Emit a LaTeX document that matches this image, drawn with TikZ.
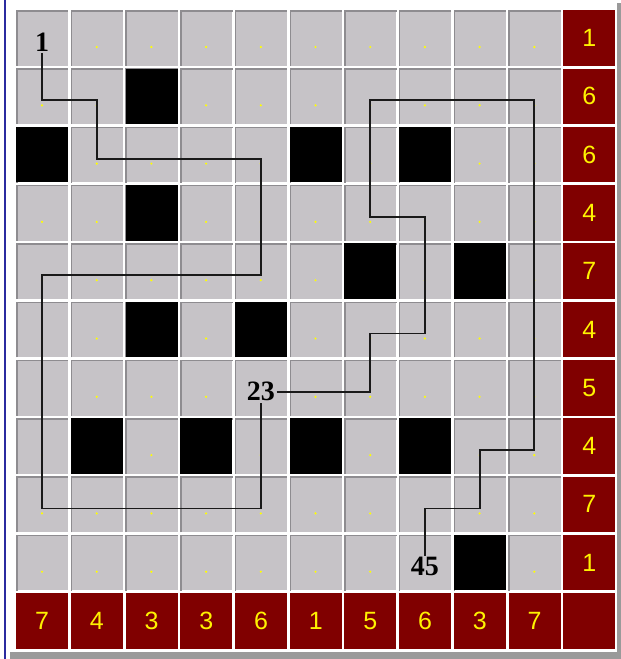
\documentclass[tikz,border=0pt]{standalone}
\usepackage{fontspec}
\setmainfont{Liberation Serif}
\newfontfamily\cluefont{Liberation Sans}
\usetikzlibrary{positioning}
\definecolor{cellgrey}{HTML}{C6C3C7}
\definecolor{cellshade}{HTML}{8E8C90}
\definecolor{cluered}{HTML}{800000}
\definecolor{clueyellow}{HTML}{FFF200}
\definecolor{dotyellow}{HTML}{FFFF00}
\definecolor{framegrey}{HTML}{9A9A9A}
\definecolor{frameblue}{HTML}{2B2BA0}

\begin{document}
\begin{tikzpicture}[x=1pt, y=-1pt,
  cell/.style={fill=cellgrey, anchor=north west, minimum width=52pt, minimum height=55.5pt, inner sep=0pt},
  wall/.style={fill=black, minimum width=52pt, minimum height=55.5pt, inner sep=0pt},
  clue/.style={cell, fill=cluered, text=clueyellow, font=\cluefont\fontsize{25}{25}\selectfont},
  tag/.style={fill=cellgrey, inner sep=1.5pt, font=\bfseries\fontsize{28}{28}\selectfont},
  edge/.style={cellshade, line width=1.5pt},
  route/.style={line width=1.8pt, black!90}]
\useasboundingbox (0,0) rectangle (621,659);
\fill[white] (0,0) rectangle (621,659);
% window frame
\fill[frameblue] (4,0) rectangle (6,659);
\fill[framegrey] (617,3) rectangle (621,659);
\fill[framegrey] (10,652) rectangle (621,659);
% playing field
\foreach \c in {0,...,9}
  \foreach \r in {0,...,9} {
    \node[cell] (c-\c-\r) at ({16+54.7*\c},{10+58.3*\r}) {};
    \draw[edge] ([xshift=.75pt]c-\c-\r.south west) |- ([yshift=-.75pt]c-\c-\r.north east);
    \coordinate (p-\c-\r) at ([xshift=26pt,yshift=-32pt]c-\c-\r.north west);
    \fill[dotyellow] ([xshift=26pt,yshift=-37pt]c-\c-\r.north west) circle (1.2pt);
  }
% blocked cells
\foreach \c/\r in {2/1,0/2,5/2,7/2,2/3,6/4,8/4,2/5,4/5,1/7,3/7,5/7,7/7,8/9}
  \node[wall] (w-\c-\r) at (c-\c-\r.center) {};
% row and column counts
\foreach \n [count=\r from 0] in {1,6,6,4,7,4,5,4,7,1}
  \node[clue] (c-10-\r) at (563,{10+58.3*\r}) {\n};
\foreach \n [count=\c from 0] in {7,4,3,3,6,1,5,6,3,7}
  \node[clue] (c-\c-10) at ({16+54.7*\c},593) {\n};
\node[clue] (c-10-10) at (563,593) {};
% numbered steps
\node[tag] (n1) at (p-0-0) {1};
\node[tag] (n23) at (p-4-6) {23};
\node[tag] (n45) at (p-7-9) {45};
% route
\draw[route] (n1.south) -- (p-0-1) -- (p-1-1) -- (p-1-2) -- (p-4-2) -- (p-4-4)
  -- (p-0-4) -- (p-0-8) -- (p-4-8) -- (n23.south);
\draw[route] (n23.east) -- (p-6-6) -- (p-6-5) -- (p-7-5) -- (p-7-3) -- (p-6-3)
  -- (p-6-1) -- (p-9-1) -- (p-9-7) -- (p-8-7) -- (p-8-8) -- (p-7-8) -- (n45.north);
\end{tikzpicture}
\end{document}
